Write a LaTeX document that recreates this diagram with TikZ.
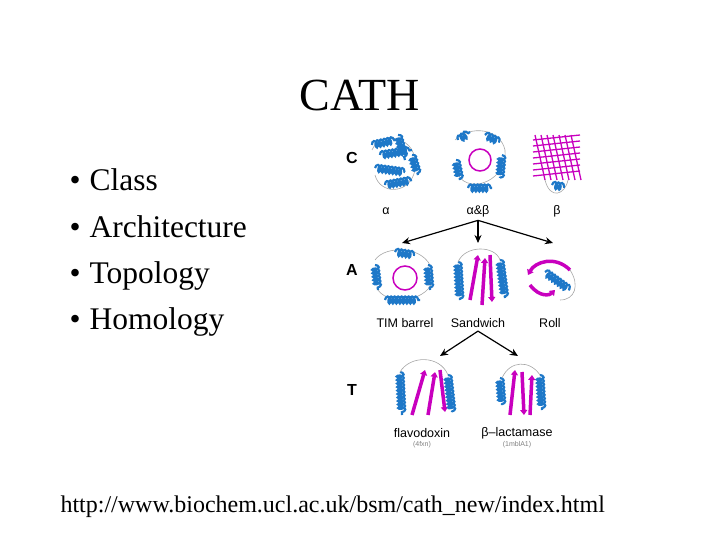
\documentclass[tikz,border=0pt]{standalone}
\usepackage{fontspec}
\setmainfont{Liberation Serif}
\newfontfamily\arial{Liberation Sans}
\usetikzlibrary{decorations.pathmorphing,arrows.meta}
\definecolor{hel}{RGB}{30,120,200}
\definecolor{str}{RGB}{200,0,190}
\tikzset{
  helix/.style={hel,line width=2.2pt,decorate,decoration={coil,aspect=0.5,segment length=3.5pt,amplitude=3.5pt}},
  strand/.style={str,line width=3.5pt,-{Triangle[width=7pt,length=5pt]}},
  loopy/.style={gray!70,line width=0.6pt},
  bul/.style={font=\fontsize{31.5}{36}\selectfont,anchor=base west},
  lab/.style={font=\arial\fontsize{12.5}{14}\selectfont},
  big/.style={font=\arial\bfseries\fontsize{16}{18}\selectfont},
  tiny/.style={font=\arial\fontsize{7}{8}\selectfont,text=gray},
  arr/.style={line width=1.2pt,-{Stealth[length=8pt,width=7pt]}}
}
\begin{document}
\begin{tikzpicture}[x=1pt,y=-1pt]
\useasboundingbox (0,0) rectangle (720,540);
\node[font=\fontsize{46}{50}\selectfont] (title) at (360,95) {CATH};
\foreach \t/\y/\n in {Class/191/a,Architecture/237/b,Topology/283/c,Homology/329/d}{
  \node[bul] (b\n) at (86,\y) {\t};
  \node[bul] (d\n) at (66,\y) {\textbullet};
}
\node[anchor=base west,font=\fontsize{24}{28}\selectfont] (url) at (57,512) {http://www.biochem.ucl.ac.uk/bsm/cath\_new/index.html};
% panel
\node[big] (C) at (352,158) {C};
\node[big] (A) at (352,270) {A};
\node[big] (T) at (352,390) {T};
\node[lab] (la) at (386,211) {α};
\node[lab] (lab) at (478,211) {α\&β};
\node[lab] (lb) at (557,211) {β};
\node[lab] (tim) at (405,323) {TIM barrel};
\node[lab] (san) at (478,323) {Sandwich};
\node[lab] (rol) at (550,323) {Roll};
\node[lab] (fla) at (422,433) {flavodoxin};
\node[lab] (lac) at (517,433) {β–lactamase};
\node[tiny] (f2) at (422,445) {(4fxn)};
\node[tiny] (l2) at (517,445) {(1mblA1)};
\coordinate (t1) at (402,243); \coordinate (t2) at (478,243); \coordinate (t3) at (553,243);
\coordinate (s1) at (440,356); \coordinate (s2) at (518,356);
\draw[arr] (lab.south) -- (t1); \draw[arr] (lab.south) -- (t2); \draw[arr] (lab.south) -- (t3);
\draw[arr] (san.south) -- (s1); \draw[arr] (san.south) -- (s2);
% alpha protein
\draw[loopy] (372,150) .. controls (380,130) and (420,135) .. (415,170) .. controls (410,195) and (380,195) .. (375,175);
\foreach \a/\b in {{(372,145)}/{(395,140)},{(380,155)}/{(412,150)},{(375,168)}/{(405,172)},{(385,185)}/{(412,180)},{(398,135)}/{(405,160)},{(412,155)}/{(418,175)}}
  \draw[helix] \a -- \b;
% alpha beta
\draw[loopy] (455,140) .. controls (470,125) and (500,128) .. (505,150) .. controls (508,180) and (470,195) .. (458,175);
\foreach \a/\b in {{(458,140)}/{(470,132)},{(485,135)}/{(500,142)},{(456,160)}/{(460,180)},{(502,155)}/{(500,178)},{(468,188)}/{(492,188)}}
  \draw[helix] \a -- \b;
\draw[str,line width=1.5pt] (480,160) circle (11);
% beta barrel
\foreach \i in {0,...,6}{
  \draw[str,line width=1.3pt] (535+\i*6,135) -- (545+\i*6,180);
  \draw[str,line width=1.3pt] (533,140+\i*6) -- (580,135+\i*6);
}
\draw[loopy] (545,180) .. controls (550,200) and (565,195) .. (568,180);
\draw[helix] (552,185) -- (565,187);
% TIM barrel
\draw[loopy] (375,260) .. controls (385,245) and (425,245) .. (432,270) .. controls (440,300) and (390,308) .. (378,290);
\foreach \a/\b in {{(375,265)}/{(378,290)},{(395,252)}/{(415,255)},{(428,265)}/{(430,290)},{(385,300)}/{(420,300)}}
  \draw[helix] \a -- \b;
\draw[str,line width=1.5pt] (405,278) circle (12);
% sandwich
\draw[strand] (470,300) -- (478,255);
\draw[strand] (482,305) -- (485,258);
\draw[strand] (490,255) -- (492,302);
\draw[helix] (458,262) -- (460,300);
\draw[helix] (500,260) -- (505,298);
\draw[loopy] (458,262) .. controls (465,245) and (495,245) .. (500,260);
% roll
\draw[strand] (570,270) .. controls (555,255) and (535,262) .. (528,275);
\draw[strand] (530,285) .. controls (540,298) and (550,295) .. (555,290);
\draw[helix] (545,272) -- (570,290);
\draw[loopy] (570,270) .. controls (580,285) and (575,300) .. (560,300);
% flavodoxin
\draw[strand] (412,415) -- (425,370);
\draw[strand] (428,415) -- (435,372);
\draw[strand] (440,370) -- (445,412);
\draw[helix] (400,372) -- (402,415);
\draw[helix] (448,375) -- (452,412);
\draw[loopy] (400,372) .. controls (410,355) and (440,355) .. (448,375);
% lactamase
\draw[strand] (510,415) -- (515,370);
\draw[strand] (522,372) -- (524,415);
\draw[strand] (530,415) -- (532,375);
\draw[helix] (500,378) -- (502,405);
\draw[helix] (540,375) -- (542,410);
\draw[loopy] (502,378) .. controls (510,360) and (530,360) .. (540,375);
\end{tikzpicture}
\end{document}
